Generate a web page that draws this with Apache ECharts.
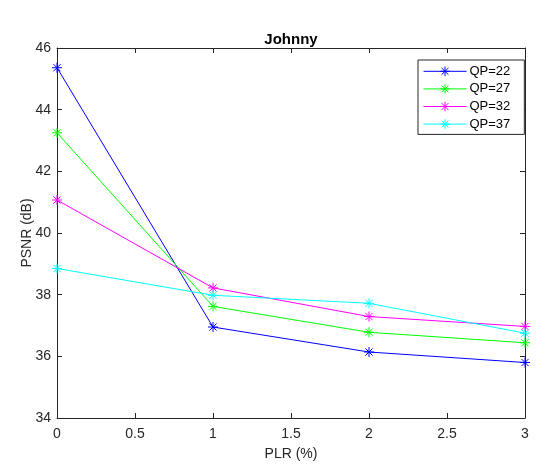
<!DOCTYPE html>
<html>
<head>
<meta charset="utf-8">
<script src="https://cdn.jsdelivr.net/npm/echarts@6/dist/echarts.min.js"></script>
<style>html,body{margin:0;padding:0;background:#fff;}#c{width:554px;height:465px;}</style>
</head>
<body>
<div id="c"></div>
<script>
var plr = [0, 1, 2, 3];
var qp22 = [45.36, 36.95, 36.14, 35.80];
var qp27 = [43.25, 37.62, 36.78, 36.44];
var qp32 = [41.07, 38.22, 37.29, 36.97];
var qp37 = [38.85, 37.98, 37.72, 36.75];
var seriesNames = ['QP=22', 'QP=27', 'QP=32', 'QP=37'];
var seriesData = [qp22, qp27, qp32, qp37];
var colors = ['#0000ff', '#00ff00', '#ff00ff', '#00ffff'];

var star = 'path://M0,-5L0,5M-5,0L5,0M-3.6,-3.6L3.6,3.6M-3.6,3.6L3.6,-3.6';
var axisColor = '#262626';
var font = 'Liberation Sans, Arial, Helvetica, sans-serif';

var chart = echarts.init(document.getElementById('c'), null, {renderer: 'canvas'});
var series = seriesData.map(function (d, i) {
  return {
    name: seriesNames[i],
    type: 'line',
    data: plr.map(function (x, j) { return [x, d[j]]; }),
    symbol: star,
    symbolSize: 10,
    showAllSymbol: true,
    color: colors[i],
    lineStyle: {color: colors[i], width: 1},
    itemStyle: {color: 'none', borderColor: colors[i], borderWidth: 1},
    emphasis: {disabled: true},
    animation: false
  };
});
function axisCommon() {
  return {
    axisLine: {show: true, onZero: false, lineStyle: {color: axisColor, width: 1}},
    axisTick: {show: true, inside: true, length: 5, lineStyle: {color: axisColor}},
    splitLine: {show: false}
  };
}
var xMain = Object.assign(axisCommon(), {
  type: 'value', min: 0, max: 3, interval: 0.5, position: 'bottom',
  name: 'PLR (%)', nameLocation: 'middle', nameGap: 29, nameMoveOverlap: false,
  nameTextStyle: {color: axisColor, fontSize: 14, fontFamily: font},
  axisLabel: {color: axisColor, fontSize: 14, fontFamily: font, margin: 9}
});
var xTop = Object.assign(axisCommon(), {
  type: 'value', min: 0, max: 3, interval: 0.5, position: 'top', axisLabel: {show: false}
});
var yMain = Object.assign(axisCommon(), {
  type: 'value', min: 34, max: 46, interval: 2, position: 'left',
  name: 'PSNR (dB)', nameLocation: 'middle', nameGap: 23, nameRotate: 90, nameMoveOverlap: false,
  nameTextStyle: {color: axisColor, fontSize: 14, fontFamily: font},
  axisLabel: {color: axisColor, fontSize: 14, fontFamily: font, margin: 6}
});
var yRight = Object.assign(axisCommon(), {
  type: 'value', min: 34, max: 46, interval: 2, position: 'right', axisLabel: {show: false}
});
chart.setOption({
  backgroundColor: '#ffffff',
  animation: false,
  title: {
    text: 'Johnny', left: 291, top: 32, padding: 0, textAlign: 'center',
    textStyle: {color: '#000', fontSize: 15, fontWeight: 'bold', fontFamily: font}
  },
  grid: {left: 57, right: 29, top: 48, bottom: 47, containLabel: false, outerBoundsMode: 'none'},
  xAxis: [xMain, xTop],
  yAxis: [yMain, yRight],
  legend: {
    orient: 'vertical', left: 418, top: 60,
    data: seriesNames,
    itemWidth: 43, itemHeight: 12, itemGap: 3,
    padding: [4, 14, 3, 5],
    borderColor: axisColor, borderWidth: 1, backgroundColor: '#fff',
    itemStyle: {color: 'none', borderWidth: 1},
    lineStyle: {width: 1},
    textStyle: {color: '#000', fontSize: 13, lineHeight: 14, fontFamily: font, padding: [0, 0, 0, -2]},
    selectedMode: false
  },
  series: series
});
</script>
</body>
</html>
